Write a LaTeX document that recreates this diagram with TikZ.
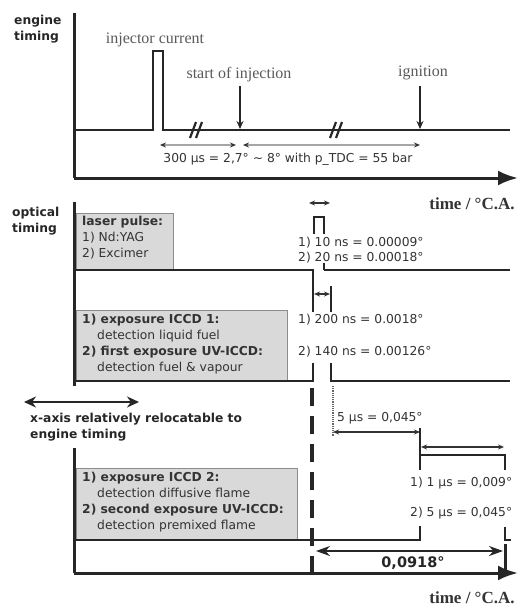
\documentclass[tikz,border=0pt]{standalone}
\usepackage{fontspec}
\setmainfont{Liberation Serif}
\setsansfont{DejaVu Sans}
\usetikzlibrary{arrows.meta}
\begin{document}
\begin{tikzpicture}[x=1pt,y=-1pt,
  ax/.style={line width=3pt, draw=black!85},
  tr/.style={line width=2.8pt, draw=black!85, line join=miter},
  dim/.style={line width=1.3pt, draw=black!80, {Stealth[length=6pt,width=5pt]}-{Stealth[length=6pt,width=5pt]}},
  gdim/.style={line width=1.6pt, draw=black!35, {Stealth[length=6pt,width=5pt,black!80]}-{Stealth[length=6pt,width=5pt,black!80]}},
  bigax/.style={line width=3pt, draw=black!85, -{Latex[length=20pt,width=15pt]}},
  sans/.style={font=\sffamily\fontsize{12.3}{16}\selectfont, text=black!80, inner sep=0pt},
  sansb/.style={font=\sffamily\bfseries\fontsize{12.3}{16}\selectfont, text=black!85, inner sep=0pt, align=left},
  ser/.style={font=\rmfamily\fontsize{16}{18}\selectfont, text=black!65, inner sep=0pt},
  tca/.style={font=\rmfamily\bfseries\fontsize{17}{19}\selectfont, text=black!80, inner sep=0pt},
  graybox/.style={fill=black!15, draw=black!45, line width=1pt},
  brk/.style={line width=2.2pt, draw=black!85},
]
\useasboundingbox (0,0) rectangle (522,607);

% ================= ENGINE TIMING =================
\node[sansb, anchor=north west] (engl) at (14,15) {engine\\timing};
\draw[ax] (74,13) -- (74,178);
\draw[bigax] (74,178) -- (518,178);
\node[tca] (tca1) at (472,204) {time / °C.A.};

% injector pulse trace
\draw[tr] (74,130) -- (153,130) -- (153,51) -- (163,51) -- (163,130) -- (510,130);
\node[ser] (inj) at (155,40) {injector current};

% break marks
\foreach \bx in {197,337}{
  \draw[brk] (\bx-7,138) -- (\bx-1,122);
  \draw[brk] (\bx-1,138) -- (\bx+5,122);
}

% start of injection, ignition
\node[ser] (soi) at (239,75) {start of injection};
\coordinate (soiA) at (240,86);
\coordinate (soiB) at (240,129);
\draw[line width=2pt, draw=black!85, -{Stealth[length=8pt,width=7pt]}] (soiA) -- (soiB);
\node[ser] (ign) at (423,73) {ignition};
\coordinate (ignA) at (420,86);
\coordinate (ignB) at (420,129);
\draw[line width=2pt, draw=black!85, -{Stealth[length=8pt,width=7pt]}] (ignA) -- (ignB);

% top dimension
\draw[gdim] (160,145) -- (236,145);
\draw[gdim] (243,145) -- (420,145);
\node[sans] (tdim) at (288,159) {300 µs = 2,7° \textasciitilde{} 8° with p\_TDC = 55 bar};

% ================= OPTICAL TIMING =================
\node[sansb, anchor=north west] (optl) at (12,207) {optical\\timing};
\draw[ax] (74,202) -- (74,386);

% laser pulse box
\draw[graybox] (76,213) rectangle (173,270);
\node[sans, anchor=north west, align=left] (lasbox) at (82,216)
  {\textbf{laser pulse:}\\1) Nd:YAG\\2) Excimer};

% laser trace
\draw[tr] (74,270) -- (314,270);
\draw[tr] (324,270) -- (510,270);
\draw[tr] (314,234) -- (314,217) -- (324,217) -- (324,234);
\draw[tr] (324,263) -- (324,270);
\draw[dim] (309,203) -- (330,203);
\node[sans, anchor=west] (l1) at (298,243) {1) 10 ns = 0.00009°};
\node[sans, anchor=west] (l2) at (298,258) {2) 20 ns = 0.00018°};

% ICCD 1 box
\draw[graybox] (76,310) rectangle (287,381);
\node[sans, anchor=north west, align=left] (iccd1) at (82,314)
  {\textbf{1) exposure ICCD 1:}\\\hspace*{15pt}detection liquid fuel\\\textbf{2) first exposure UV-ICCD:}\\\hspace*{15pt}detection fuel \& vapour};

% ICCD 1 gate
\draw[tr] (74,381) -- (313,381) -- (313,363);
\draw[tr] (313,312) -- (313,270);
\draw[tr] (331,286) -- (331,312);
\draw[tr] (331,363) -- (331,381) -- (510,381);
\draw[dim] (314,294) -- (330,294);
\node[sans, anchor=west] (g1) at (298,320) {1) 200 ns = 0.0018°};
\node[sans, anchor=west] (g2) at (298,352) {2) 140 ns = 0.00126°};

% dotted connector and 5 us delay
\draw[line width=1.2pt, draw=black!60, densely dotted] (333,386) -- (333,436);
\node[sans, anchor=west] (d5) at (337,418) {5 µs = 0,045°};
\draw[dim] (333,432) -- (420,432);

% ================= LOWER PLOT =================
\draw[line width=2pt, draw=black!85, {Stealth[length=12pt,width=11pt]}-{Stealth[length=12pt,width=11pt]}] (24,402) -- (139,402);
\node[sansb, anchor=west, align=left] (reloc) at (30,427)
  {x-axis relatively relocatable to\\engine timing};

\draw[ax] (74,448) -- (74,573);
\draw[bigax] (74,573) -- (518,573);
\node[tca] (tca2) at (472,598) {time / °C.A.};

\draw[graybox] (76,468) rectangle (297,540);
\node[sans, anchor=north west, align=left] (iccd2) at (82,472)
  {\textbf{1) exposure ICCD 2:}\\\hspace*{15pt}detection diffusive flame\\\textbf{2) second exposure UV-ICCD:}\\\hspace*{15pt}detection premixed flame};

% ICCD 2 gate
\draw[tr] (74,540) -- (420,540) -- (420,526);
\draw[tr] (420,470) -- (420,428);
\draw[tr] (420,455) -- (505,455) -- (505,470);
\draw[tr] (505,527) -- (505,540) -- (511,540);
\draw[line width=3pt, draw=black!85] (505,544) -- (505,573);
\draw[dim] (421,447) -- (504,447);
\node[sans, anchor=west] (h1) at (410,483) {1) 1 µs = 0,009°};
\node[sans, anchor=west] (h2) at (410,513) {2) 5 µs = 0,045°};

% dashed reference line
\draw[line width=3.5pt, draw=black!85, dash pattern=on 18pt off 10pt] (312,388) -- (312,574);

% total
\draw[line width=2pt, draw=black!85, {Stealth[length=14pt,width=10pt]}-{Stealth[length=14pt,width=10pt]}] (316,551) -- (503,551);
\node[font=\sffamily\bfseries\fontsize{14.5}{17}\selectfont, text=black!85, inner sep=0pt] (tot) at (413,563) {0,0918°};
\end{tikzpicture}
\end{document}
